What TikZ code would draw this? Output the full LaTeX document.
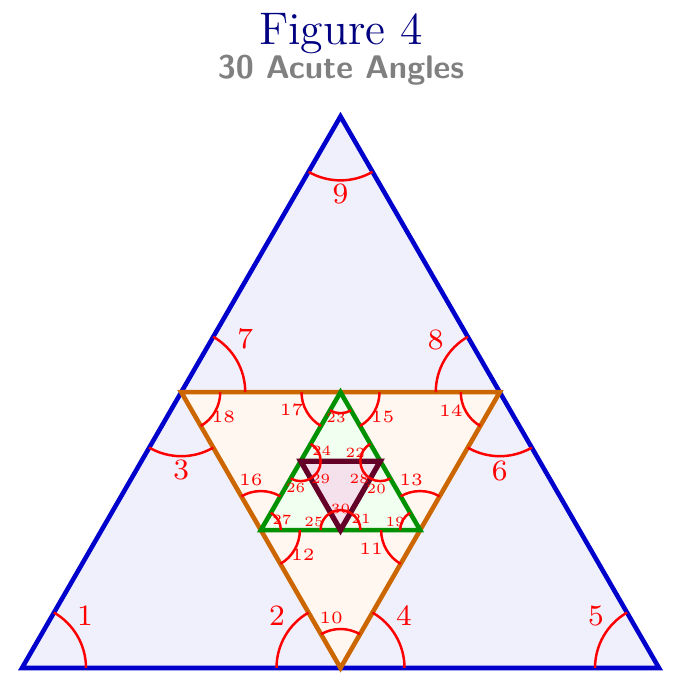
\documentclass[tikz,border=0pt]{standalone}
\usetikzlibrary{calc}
\definecolor{outerblue}{RGB}{0,0,205}
\definecolor{outerfill}{RGB}{240,240,252}
\definecolor{midorange}{RGB}{204,102,0}
\definecolor{midfill}{RGB}{255,247,240}
\definecolor{ingreen}{RGB}{0,145,0}
\definecolor{infill}{RGB}{240,255,240}
\definecolor{coremaroon}{RGB}{100,0,40}
\definecolor{corefill}{RGB}{245,225,235}
\definecolor{titleblue}{RGB}{0,0,128}
\tikzset{
  side/.style={line width=1.3pt},
  angarc/.style={red, line width=0.7pt},
  big/.style={text=red, font=\fontsize{8.4}{10}\selectfont},
  mid/.style={text=red, font=\fontsize{4.9}{6}\selectfont},
  small/.style={text=red, font=\fontsize{4}{5}\selectfont}
}
\begin{document}
\begin{tikzpicture}[x=0.01cm, y=0.01cm]
\useasboundingbox (0,0) rectangle (686,692);
\node[titleblue, font=\fontsize{13}{15}\selectfont, anchor=base] (title) at (341,647) {Figure 4};
\node[gray, font=\fontsize{9.3}{11}\sffamily\bfseries, anchor=base] (subtitle) at (341,613) {30 Acute Angles};
% outer triangle and its midpoints
\coordinate (A) at (22,24);
\coordinate (B) at (659,24);
\coordinate (C) at (340.5,575.6);
\coordinate (D) at ($(A)!0.5!(C)$);
\coordinate (E) at ($(B)!0.5!(C)$);
\coordinate (F) at ($(A)!0.5!(B)$);
\coordinate (G) at ($(D)!0.5!(F)$);
\coordinate (H) at ($(E)!0.5!(F)$);
\coordinate (I) at ($(D)!0.5!(E)$);
\coordinate (J) at ($(G)!0.5!(I)$);
\coordinate (K) at ($(H)!0.5!(I)$);
\coordinate (L) at ($(G)!0.5!(H)$);
\draw[side, outerblue, fill=outerfill] (A) -- (B) -- (C) -- cycle;
\draw[side, midorange, fill=midfill] (D) -- (E) -- (F) -- cycle;
\draw[side, ingreen, fill=infill] (G) -- (H) -- (I) -- cycle;
\draw[side, line width=1.5pt, coremaroon, fill=corefill] (J) -- (K) -- (L) -- cycle;
% the 30 angles
\foreach \v/\a/\r/\t/\dx/\dy/\s in {
  A/0/64/1/63/52/big, F/120/64/2/-63.5/52/big, D/240/64/3/0/-78/big,
  F/0/64/4/63.5/52/big, B/120/64/5/-63/52/big, E/240/64/6/0/-79/big,
  D/0/64/7/64/53/big, E/120/64/8/-64/52/big, C/240/64/9/0/-78/big,
  F/60/39/10/-9.5/50/mid, H/180/39/11/-49/-19/mid, G/300/39/12/42/-25/mid,
  H/60/39/13/-9/50/mid, E/180/39/14/-49/-18/mid, I/300/39/15/42/-25/mid,
  G/60/39/16/-10/50/mid, I/180/39/17/-49/-18/mid, D/300/39/18/42/-25/mid,
  H/120/20/19/-25/8/small, K/240/20/20/-4/-28/small, L/0/20/21/20.5/11/small,
  K/120/20/22/-25/8/small, I/240/21/23/-4.5/-26/small, J/0/20/24/21/10/small,
  L/120/20/25/-26.5/8/small, J/240/20/26/-5/-27/small, G/0/20/27/21/10/small,
  K/180/20/28/-21/-18/small, J/300/20/29/20/-18/small, L/60/20/30/0/21/small}
{
  \draw[angarc] ($(\v)+(\a:\r)$) arc[start angle=\a, delta angle=60, radius=\r];
  \node[\s] (l\t) at ($(\v)+(\dx,\dy)$) {\t};
}
\end{tikzpicture}
\end{document}
